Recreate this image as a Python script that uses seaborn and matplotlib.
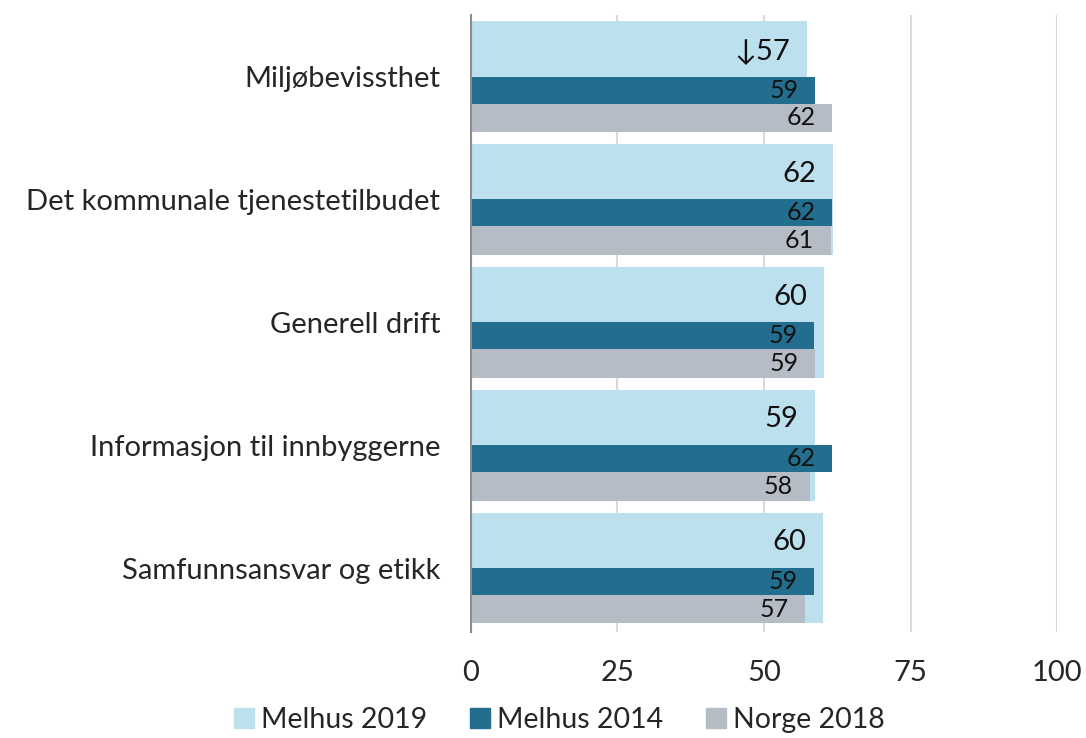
import matplotlib
matplotlib.use("Agg")
import matplotlib.pyplot as plt
from matplotlib.patches import Patch
import seaborn as sns
import numpy as np
import pandas as pd

# data lest av fra figuren
kategorier = ["Miljøbevissthet", "Det kommunale tjenestetilbudet", "Generell drift",
              "Informasjon til innbyggerne", "Samfunnsansvar og etikk"]
melhus_2019 = [57.3, 61.8, 60.2, 58.7, 60.1]
melhus_2014 = [58.7, 61.6, 58.6, 61.6, 58.6]
norge_2018 = [61.6, 61.4, 58.7, 57.8, 57.0]
etiketter_2019 = ["↓57", "62", "60", "59", "60"]
xticks = [0, 25, 50, 75, 100]

farge_2019 = "#BDE0EF"
farge_2014 = "#236E8F"
farge_norge = "#B5BCC6"

sns.set_style("white")
plt.rcParams['font.family'] = ['Lato', 'DejaVu Sans']

df = pd.DataFrame({"kategori": kategorier, "verdi": melhus_2019})

fig = plt.figure(figsize=(10.86, 7.38), dpi=100)
ax = fig.add_axes([0.4337, 0.1436, 0.5396, 0.836])

sns.barplot(data=df, x="verdi", y="kategori", orient="h", color=farge_2019,
            width=0.9, saturation=1, linewidth=0, ax=ax)
pos = np.arange(len(kategorier))
ax.barh(pos + 0.11, melhus_2014, height=0.22, color=farge_2014, linewidth=0, zorder=3)
ax.barh(pos + 0.335, norge_2018, height=0.23, color=farge_norge, linewidth=0, zorder=3)

# verdietiketter
for i in range(len(kategorier)):
    ax.annotate(etiketter_2019[i], (melhus_2019[i], i - 0.21), xytext=(-12, 0),
                textcoords="offset points", ha="right", va="center", fontsize=21, color="#111111", zorder=5)
    ax.annotate(f"{melhus_2014[i]:.0f}", (melhus_2014[i], i + 0.11), xytext=(-12, 0),
                textcoords="offset points", ha="right", va="center", fontsize=18, color="#111111", zorder=5)
    ax.annotate(f"{norge_2018[i]:.0f}", (norge_2018[i], i + 0.335), xytext=(-12, 0),
                textcoords="offset points", ha="right", va="center", fontsize=18, color="#111111", zorder=5)

ax.set_xlim(0, 100)
ax.set_ylim(4.52, -0.5)
ax.set_xticks(xticks)
ax.set_xticklabels([str(t) for t in xticks])
ax.set_xlabel("")
ax.set_ylabel("")
ax.tick_params(axis="x", length=0, pad=20, labelsize=21)
ax.tick_params(axis="y", length=0, pad=22, labelsize=21)
ax.grid(axis="x", color="#D9D9D9", linewidth=1.5, zorder=0)
ax.set_axisbelow(True)
for s in ["top", "right", "bottom"]:
    ax.spines[s].set_visible(False)
ax.spines["left"].set_color("#8C8C8C")
ax.spines["left"].set_linewidth(1.5)
ax.spines["left"].set_zorder(6)

handles = [Patch(color=farge_2019, label="Melhus 2019"),
           Patch(color=farge_2014, label="Melhus 2014"),
           Patch(color=farge_norge, label="Norge 2018")]
fig.legend(handles=handles, loc="lower center", bbox_to_anchor=(0.515, -0.028), ncol=3,
           frameon=False, fontsize=20.5, handlelength=0.7, handleheight=0.7,
           handletextpad=0.25, columnspacing=1.5)

fig.savefig("out.png", dpi=100)
